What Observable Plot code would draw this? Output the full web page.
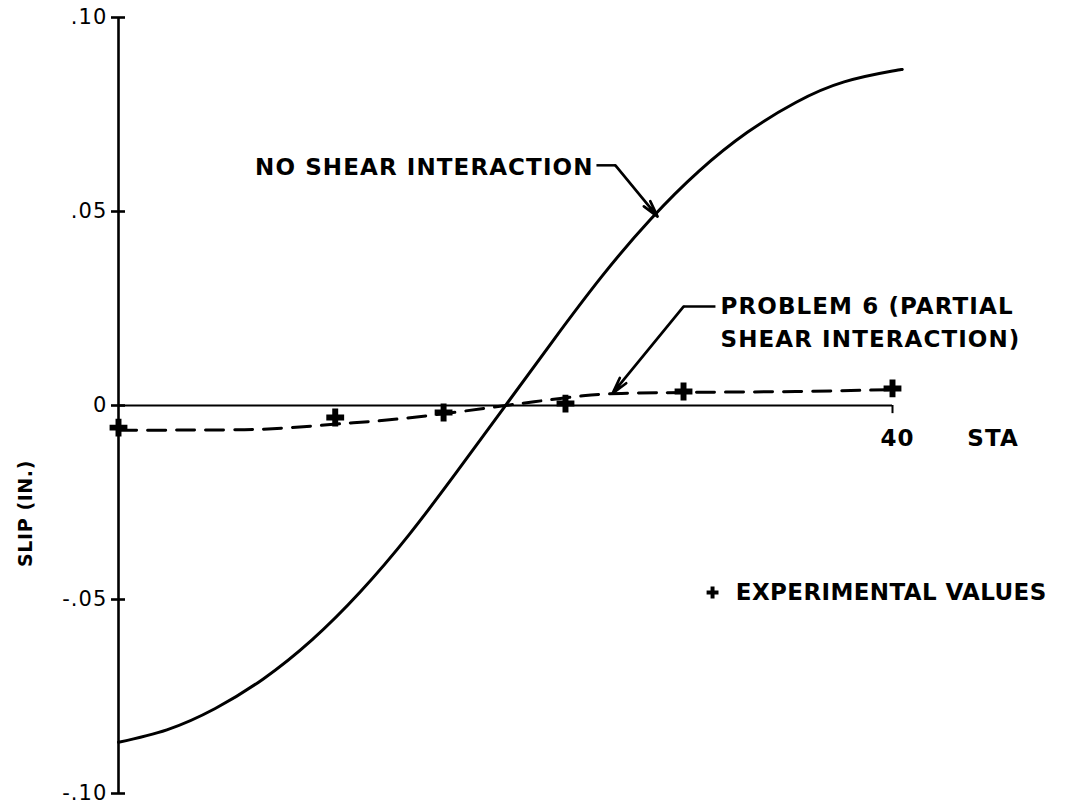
<!DOCTYPE html>
<html>
<head>
<meta charset="utf-8">
<script src="https://cdn.jsdelivr.net/npm/d3@7"></script>
<script src="https://cdn.jsdelivr.net/npm/@observablehq/plot@0.6"></script>
<style>
  html, body { margin: 0; padding: 0; background: #fff; }
  #chart svg { display: block; }
  #chart svg text { letter-spacing: 1.1px; }
  #chart svg g[aria-description="key"] text { letter-spacing: 0.4px; }
  #chart svg g[aria-description="ylabel"] text { letter-spacing: 0.6px; }
</style>
</head>
<body>
<div id="chart"></div>
<script>
// Slip along the member (inches) against station number.
const staSolid = [0, 2.5, 5, 7.5, 10, 12.5, 15, 17.5, 20, 22.5, 25, 27.5, 30, 32.5, 35, 37.5, 40, 40.5];
const slipNoInteraction = [-0.0868, -0.0836, -0.0781, -0.0704, -0.0604, -0.0480, -0.0334, -0.0170, 0, 0.0170, 0.0334, 0.0480, 0.0604, 0.0704, 0.0781, 0.0834, 0.0862, 0.0866];

const staDashed = [0, 5, 7.5, 10, 12, 14, 17, 20, 22, 24, 26, 30, 35, 40];
const slipPartial = [-0.0064, -0.0063, -0.0061, -0.0053, -0.0045, -0.0037, -0.0020, 0, 0.0013, 0.0025, 0.0031, 0.0034, 0.0036, 0.0041];

const staExperimental = [0, 11.2, 16.8, 23.1, 29.2, 40];
const slipExperimental = [-0.0057, -0.0031, -0.0018, 0.0005, 0.0036, 0.0044];

const yTicks = [0.10, 0.05, 0, -0.05, -0.10];
const yTickLabels = [".10", ".05", "0", "-.05", "-.10"];

const solid = staSolid.map((sta, i) => ({sta, slip: slipNoInteraction[i]}));
const dashed = staDashed.map((sta, i) => ({sta, slip: slipPartial[i]}));
const experimental = staExperimental.map((sta, i) => ({sta, slip: slipExperimental[i]}));

const ink = "#000";
const font = "'DejaVu Sans', sans-serif";
const label = {fontFamily: font, fontSize: 23, fontWeight: "bold", fill: ink};

const chart = Plot.plot({
  width: 1066,
  height: 809,
  marginLeft: 118,
  marginRight: 174,
  marginTop: 17,
  marginBottom: 16,
  x: {domain: [0, 40], axis: null},
  y: {domain: [-0.1, 0.1], axis: null},
  style: {fontFamily: font, color: ink, background: "#fff", overflow: "visible"},
  marks: [
    // axes drawn through the origin
    Plot.ruleX([0], {stroke: ink, strokeWidth: 2.6}),
    Plot.ruleY([0], {x1: 0, x2: 40, stroke: ink, strokeWidth: 2}),
    Plot.ruleX([40], {y1: 0, y2: -0.0021, stroke: ink, strokeWidth: 2}),
    Plot.axisY(yTicks, {
      anchor: "left", label: null, tickSize: 14, dx: 7, tickPadding: 4,
      tickFormat: d => yTickLabels[yTicks.indexOf(d)],
      fontSize: 21, fontFamily: font, strokeWidth: 2.6, stroke: ink, fill: ink
    }),
    Plot.text(["40"], {x: 40, y: 0, dx: 5, dy: 33, ...label}),
    Plot.text(["STA"], {x: 45.2, y: 0, dy: 33, ...label}),
    Plot.text(["SLIP (IN.)"], {frameAnchor: "left", textAnchor: "middle", dx: -93, dy: 108, rotate: -90, ...label, fontSize: 19, ariaDescription: "ylabel"}),

    // curves
    Plot.line(solid, {x: "sta", y: "slip", curve: "natural", stroke: ink, strokeWidth: 3}),
    Plot.line(dashed, {x: "sta", y: "slip", curve: "natural", stroke: ink, strokeWidth: 3, strokeDasharray: "18,11"}),
    Plot.dot(experimental, {x: "sta", y: "slip", symbol: "cross", r: 7.5, fill: ink, stroke: null}),

    // annotations
    Plot.text(["NO SHEAR INTERACTION"], {x: 24.55, y: 0.0613, textAnchor: "end", ...label}),
    Plot.link([0], {x1: 24.7, y1: 0.0619, x2: 25.68, y2: 0.0619, stroke: ink, strokeWidth: 2.5}),
    Plot.arrow([0], {x1: 25.68, y1: 0.0619, x2: 27.86, y2: 0.0487, stroke: ink, strokeWidth: 2.7, headLength: 9.5, headAngle: 28}),

    Plot.text(["PROBLEM 6 (PARTIAL"], {x: 31.11, y: 0.0255, textAnchor: "start", ...label}),
    Plot.text(["SHEAR INTERACTION)"], {x: 31.11, y: 0.0170, textAnchor: "start", ...label}),
    Plot.link([0], {x1: 29.2, y1: 0.0255, x2: 30.85, y2: 0.0255, stroke: ink, strokeWidth: 2.5}),
    Plot.arrow([0], {x1: 29.2, y1: 0.0255, x2: 25.53, y2: 0.0031, stroke: ink, strokeWidth: 2.7, headLength: 9.5, headAngle: 28}),

    // key for the experimental points
    Plot.dot([0], {x: 30.7, y: -0.0482, symbol: "cross", r: 5, fill: ink, stroke: null}),
    Plot.text(["EXPERIMENTAL VALUES"], {x: 31.9, y: -0.0482, textAnchor: "start", ...label, ariaDescription: "key"})
  ]
});

document.getElementById("chart").appendChild(chart);
</script>
</body>
</html>
